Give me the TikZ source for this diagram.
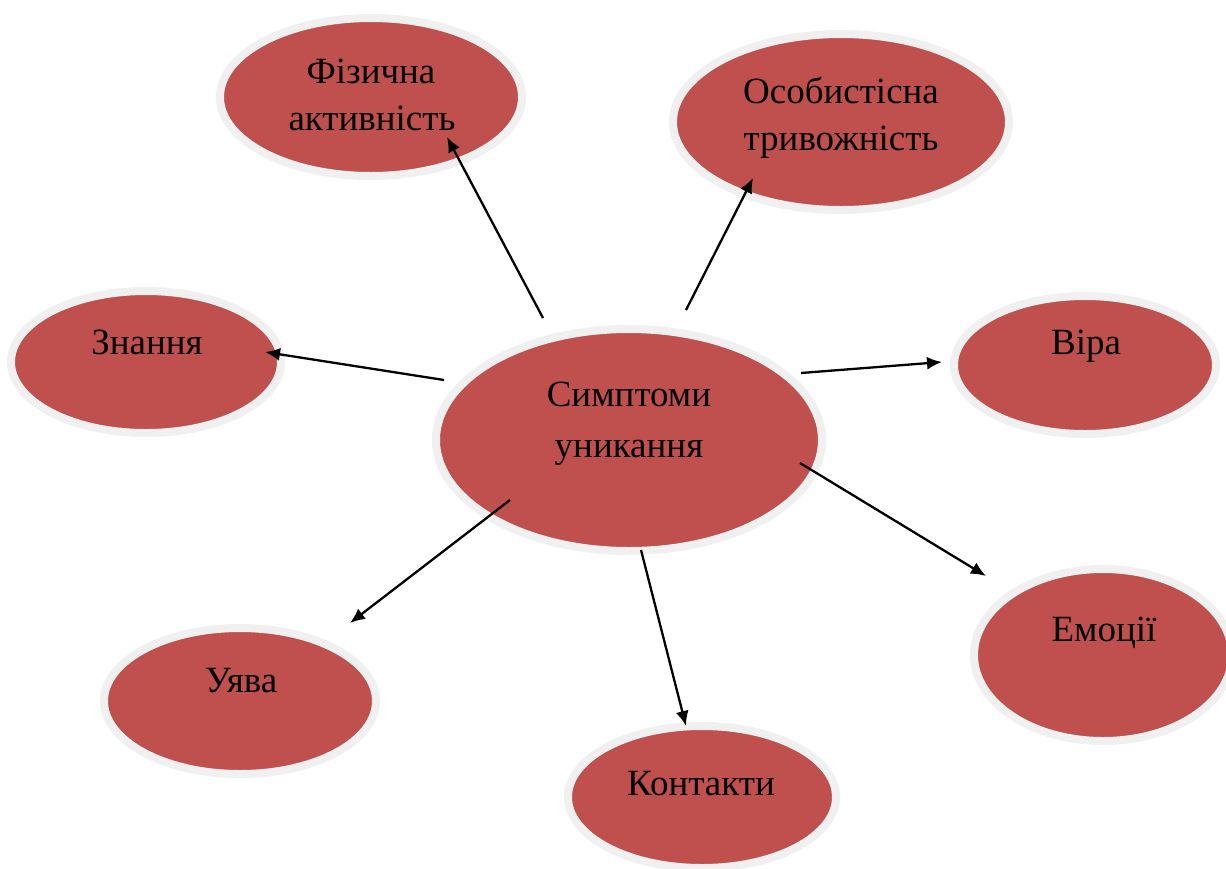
\documentclass[tikz,border=0pt]{standalone}
\usepackage{fontspec}
\setmainfont{Liberation Serif}
\usetikzlibrary{shapes.geometric,arrows.meta}
\definecolor{bub}{HTML}{C0504D}
\definecolor{rim}{HTML}{F0F0F0}
\tikzset{
  bubble/.style n args={2}{ellipse, fill=bub, draw=rim, line width=8pt, inner sep=0pt,
    minimum width=#1*2pt+8pt, minimum height=#2*2pt+8pt},
  lbl/.style={anchor=base, inner sep=0pt, font=\fontsize{37}{45}\selectfont, text=black},
  conn/.style={line width=2.3pt, -{Latex[length=15pt,width=13pt]}}
}
\begin{document}
\begin{tikzpicture}[x=1pt,y=-1pt]
\useasboundingbox (0,0) rectangle (1226,868);
% ellipses
\node[bubble={147}{75}] (e1) at (371,97) {};
\node[bubble={164}{84}] (e2) at (841,122) {};
\node[bubble={131}{67}] (e3) at (146,362) {};
\node[bubble={189}{107}] (c) at (629,440) {};
\node[bubble={127}{65}] (e5) at (1085,365) {};
\node[bubble={125}{82}] (e6) at (1103,655) {};
\node[bubble={132}{69}] (e7) at (240,701) {};
\node[bubble={130}{67}] (e8) at (702,797) {};
% labels
\node[lbl] (t1a) at (371,83) {Фізична};
\node[lbl] (t1b) at (372,130) {активність};
\node[lbl] (t2a) at (841,103) {Особистісна};
\node[lbl] (t2b) at (841,150) {тривожність};
\node[lbl] (t3) at (147,354) {Знання};
\node[lbl] (tca) at (629,406) {Симптоми};
\node[lbl] (tcb) at (629,457) {уникання};
\node[lbl] (t5) at (1086,354) {Віра};
\node[lbl] (t6) at (1104,641) {Емоції};
\node[lbl] (t7) at (241,692) {Уява};
\node[lbl] (t8) at (701,795) {Контакти};
% connector ends
\coordinate (s1) at (543,318); \coordinate (d1) at (447,137);
\coordinate (s2) at (686,310); \coordinate (d2) at (753,178);
\coordinate (s3) at (444,380); \coordinate (d3) at (265,352);
\coordinate (s5) at (801,373); \coordinate (d5) at (942,362);
\coordinate (s6) at (800,463); \coordinate (d6) at (986,576);
\coordinate (s7) at (510,500); \coordinate (d7) at (350,623);
\coordinate (s8) at (641,550); \coordinate (d8) at (686,726);
\draw[conn] (s1) -- (d1);
\draw[conn] (s2) -- (d2);
\draw[conn] (s3) -- (d3);
\draw[conn] (s5) -- (d5);
\draw[conn] (s6) -- (d6);
\draw[conn] (s7) -- (d7);
\draw[conn] (s8) -- (d8);
\end{tikzpicture}
\end{document}
